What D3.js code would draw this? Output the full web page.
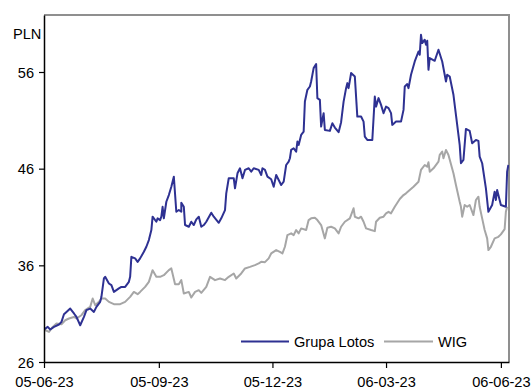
<!DOCTYPE html>
<html>
<head>
<meta charset="utf-8">
<script src="https://cdn.jsdelivr.net/npm/d3@7"></script>
<style>
  html, body { margin: 0; padding: 0; background: #fff; }
  svg text { font-family: "Liberation Sans", Arial, sans-serif; font-size: 14.6px; fill: #000; }
</style>
</head>
<body>
<svg id="chart" width="532" height="390"></svg>
<script>
// ---- data (day offset from 2022-06-05, value in PLN) ----
const startDate = "2022-06-05";
const endDate = "2023-06-12T12:00";
const tickDates = ["2022-06-05", "2022-09-05", "2022-12-05", "2023-03-06", "2023-06-06"];
const tickLabels = ["05-06-23", "05-09-23", "05-12-23", "06-03-23", "06-06-23"];
const yTicks = [26, 36, 46, 56];
const yUnit = "PLN";
const seriesNames = ["Grupa Lotos", "WIG"];

const lotosDay = [0,3,5,8,12,14,16,18,21,24, 26,29,32,34,37,40,42,45,46,48,
  49,52,54,56,60,62,65,68,69,70, 73,75,77,80,82,84,86,87,90,91,
  93,94,95,96,98,100,102,104,106,108, 110,110,112,113,116,118,120,122,124,126,
  128,130,134,136,140,142,145,146,148,152, 153,155,157,159,161,164,166,168,172,174,
  175,177,179,182,184,186,188,190,192,194, 196,197,198,200,202,203,204,206,208,209,
  211,213,214,216,218,219,221,222,224,225, 229,231,233,236,238,240,242,243,244,246,
  249,251,254,256,257,259,263,265,266,268, 270,272,274,276,278,279,282,286,288,289,
  291,292,294,297,300,301,302,303,305,306, 307,308,309,313,316,319,321,322,323,325,
  328,330,333,334,336,338,341,343,346,348, 349,351,354,356,359,361,362,363,365,366,
  370,371,372];
const lotosPLN = [29.36,29.63,29.36,29.63,29.88,30.15,30.94,31.18,31.53,31.02, 30.66,29.80,30.66,31.36,31.53,31.18,31.70,32.22,32.74,34.64,
  34.81,34.12,33.95,33.25,33.61,33.77,33.77,34.29,34.81,36.88, 36.72,36.36,36.72,37.40,37.92,38.61,39.65,41.03,40.51,40.86,
  40.68,41.03,42.06,40.86,42.58,43.27,44.13,45.17,41.54,41.72, 41.54,42.48,42.06,40.17,39.99,40.51,40.17,40.76,41.03,39.99,
  40.17,40.51,41.44,41.03,40.40,40.86,41.72,43.45,45.01,45.01, 43.97,45.52,46.04,45.01,45.87,46.04,45.69,46.04,45.87,45.35,
  46.04,45.87,45.17,44.90,44.13,45.35,44.83,44.31,44.65,46.38, 46.73,47.08,47.94,48.11,47.76,48.80,48.46,49.49,49.83,52.94,
  54.16,54.50,55.02,56.40,56.82,53.30,53.12,50.35,51.74,50.01, 49.91,50.70,50.25,49.77,50.81,52.94,54.33,54.85,54.33,55.89,
  55.53,51.39,51.39,50.87,49.32,48.97,48.97,53.46,52.42,53.30, 52.60,51.74,52.42,52.26,51.74,50.53,50.87,50.87,52.08,54.50,
  54.75,54.33,55.71,57.09,58.12,57.78,59.85,58.99,59.34,58.82, 59.23,56.23,57.44,57.16,58.30,57.09,55.71,55.02,55.71,55.53,
  53.64,51.56,48.46,46.56,46.90,50.11,49.91,48.63,48.97,48.87, 47.24,46.56,43.97,41.54,42.24,43.62,42.76,43.79,42.76,42.24,
  42.06,45.69,46.38];

const wigDay = [0,4,7,10,14,17,20,24,26,30, 33,37,39,41,44,46,49,52,56,61,
  65,69,72,75,77,81,84,87,90,93, 96,100,102,105,108,110,112,116,118,121,
  124,126,130,133,137,141,145,148,152,154, 158,161,165,169,172,174,177,180,182,186,
  189,191,193,195,198,200,202,204,206,210, 212,214,217,219,222,225,227,230,233,236,
  238,241,245,248,249,252,254,256,258,262, 265,266,269,272,274,276,278,281,285,288,
  290,293,296,300,302,305,307,308,309,312, 316,317,319,320,322,324,328,330,333,334,
  335,337,339,341,344,346,348,349,351,353, 355,356,358,361,364,366,369,370,371];
const wigPLN = [29.36,29.11,29.63,29.98,29.91,30.32,30.50,30.66,30.50,30.84, 31.36,31.70,32.57,31.88,32.22,32.57,32.57,32.22,31.98,31.98,
  32.22,32.74,33.25,33.02,33.25,33.77,34.29,35.50,34.81,34.81, 34.98,35.50,35.68,34.05,34.05,34.47,33.09,33.25,32.67,33.25,
  33.43,33.15,33.77,34.81,34.47,34.64,34.47,34.81,35.16,34.64, 35.16,35.68,35.84,36.02,36.20,36.36,36.33,36.72,37.23,37.58,
  37.40,37.23,37.92,39.13,39.31,39.13,39.65,39.31,39.82,39.65, 40.68,40.86,40.92,40.68,40.17,38.79,39.89,39.99,39.82,39.31,
  39.99,40.51,40.86,41.90,41.03,40.86,41.03,40.51,39.82,39.65, 39.54,40.51,40.92,41.03,41.38,41.54,41.38,42.06,42.86,43.27,
  43.45,43.79,44.13,44.65,45.87,46.38,46.21,46.66,45.69,46.04, 46.73,47.42,47.76,47.08,47.94,47.42,45.52,44.31,42.58,42.06,
  41.03,42.24,42.06,42.24,41.20,42.76,43.10,42.06,40.86,39.65, 38.79,37.58,37.92,38.79,38.95,39.20,39.75,41.54,42.06];

// ---- chart ----
(function () {
  const svg = d3.select("#chart");
  const mLeft = 44, mRight = 509, mTop = 15, mBottom = 362;
  const y56 = 72;
  const unitPx = (mBottom - y56) / 30;
  const yMax = 26 + (mBottom - mTop) / unitPx;

  const parse = s => new Date(s);
  const start = parse(startDate);
  const x = d3.scaleTime().domain([start, parse(endDate)]).range([mLeft, mRight]);
  const y = d3.scaleLinear().domain([26, yMax]).range([mBottom, mTop]);

  const toPts = (days, vals) => days.map((d, i) => ({ date: d3.timeDay.offset(start, d), v: vals[i] }));
  const series = [
    { name: seriesNames[0], pts: toPts(lotosDay, lotosPLN), color: "#2e3192" },
    { name: seriesNames[1], pts: toPts(wigDay, wigPLN), color: "#a6a6a6" }
  ];

  svg.append("defs").append("clipPath").attr("id", "clip")
    .append("rect").attr("x", mLeft).attr("y", mTop).attr("width", mRight - mLeft).attr("height", mBottom - mTop);

  // frame top/right (grey)
  svg.append("path")
    .attr("d", `M${mLeft},${mTop}H${mRight}V${mBottom}`)
    .attr("fill", "none").attr("stroke", "#8f8f8f").attr("stroke-width", 2);

  const line = d3.line().x(d => x(d.date)).y(d => y(d.v));
  [series[1], series[0]].forEach(s => {
    svg.append("path").datum(s.pts)
      .attr("clip-path", "url(#clip)")
      .attr("d", line)
      .attr("fill", "none")
      .attr("stroke", s.color)
      .attr("stroke-width", 2)
      .attr("stroke-linejoin", "round");
  });

  const fontCss = "'Liberation Sans', Arial, sans-serif";
  const xAxis = d3.axisBottom(x)
    .tickValues(tickDates.map(parse))
    .tickFormat((d, i) => tickLabels[i])
    .tickSize(6).tickSizeOuter(0);
  const gx = svg.append("g").attr("transform", `translate(0,${mBottom})`).call(xAxis);
  gx.select(".domain").attr("stroke", "#000").attr("stroke-width", 1.5);
  gx.selectAll(".tick line").attr("stroke", "#000").attr("stroke-width", 1.2);
  gx.selectAll(".tick text").attr("dy", null).attr("y", 25)
    .style("font-family", fontCss).style("font-size", "14.6px").attr("fill", "#000");

  const yAxis = d3.axisLeft(y).tickValues(yTicks).tickFormat(d3.format("d")).tickSize(5).tickSizeOuter(0);
  const gy = svg.append("g").attr("transform", `translate(${mLeft},0)`).call(yAxis);
  gy.select(".domain").attr("stroke", "#000").attr("stroke-width", 1.5);
  gy.selectAll(".tick line").attr("stroke", "#000").attr("stroke-width", 1.2);
  gy.selectAll(".tick text").attr("x", -10).attr("dy", "0.36em")
    .style("font-family", fontCss).style("font-size", "14.6px").attr("fill", "#000");

  svg.append("text").attr("x", 13).attr("y", 39).text(yUnit);

  const legendItems = [
    { s: series[0], x1: 241, x2: 289, tx: 294 },
    { s: series[1], x1: 384, x2: 433, tx: 438 }
  ];
  const ly = 341.5;
  legendItems.forEach(it => {
    svg.append("line").attr("x1", it.x1).attr("x2", it.x2).attr("y1", ly).attr("y2", ly)
      .attr("stroke", it.s.color).attr("stroke-width", 2);
    svg.append("text").attr("x", it.tx).attr("y", ly).attr("dy", "0.36em").text(it.s.name);
  });
})();
</script>
</body>
</html>
